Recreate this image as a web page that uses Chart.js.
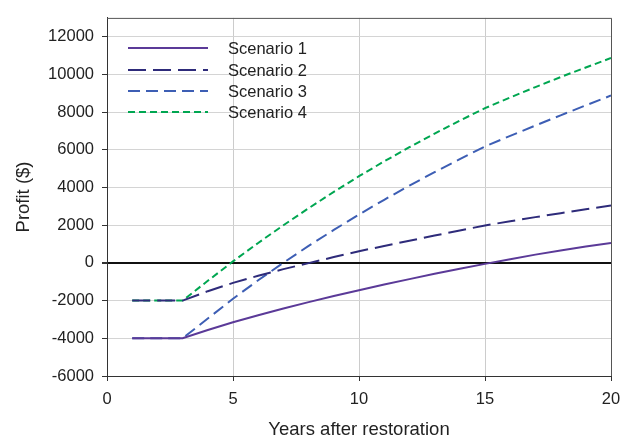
<!DOCTYPE html>
<html>
<head>
<meta charset="utf-8">
<script src="https://cdn.jsdelivr.net/npm/chart.js@4/dist/chart.umd.min.js"></script>
<style>
  body { margin: 0; background: #fff; }
  #wrap { width: 633px; height: 441px; position: relative; }
</style>
</head>
<body>
<div id="wrap"><canvas id="profitChart"></canvas></div>
<script>
// Années après restauration
const years = [1, 2, 3, 4, 5, 6, 7, 8, 9, 10, 11, 12, 13, 14, 15, 16, 17, 18, 19, 20];

// Profit ($) par scénario
const scenario1 = [-4000, -4000, -4000, -3560, -3150, -2780, -2420, -2080, -1760, -1450, -1150, -860, -580, -310, -50, 200, 440, 660, 870, 1060];
const scenario2 = [-2000, -2000, -2000, -1500, -1060, -680, -330, -10, 310, 620, 900, 1180, 1450, 1720, 1990, 2210, 2430, 2640, 2850, 3050];
const scenario3 = [-4000, -4000, -4000, -2950, -1900, -920, 10, 900, 1750, 2570, 3350, 4100, 4820, 5510, 6180, 6740, 7290, 7830, 8360, 8880];
const scenario4 = [-2000, -2000, -2000, -950, 80, 1060, 2000, 2900, 3770, 4600, 5390, 6140, 6860, 7550, 8210, 8780, 9330, 9860, 10370, 10870];

const seriesNames = ['Scenario 1', 'Scenario 2', 'Scenario 3', 'Scenario 4'];
const xTicks = [0, 5, 10, 15, 20];
const yTicks = [-6000, -4000, -2000, 0, 2000, 4000, 6000, 8000, 10000, 12000];

const toPoints = (values) => values.map((v, i) => ({ x: years[i], y: v }));

const fontFamily = '"Liberation Sans", Arial, sans-serif';
const tickFont = { family: fontFamily, size: 16.5 };
const titleFont = { family: fontFamily, size: 18.5 };

// Légende dessinée à l'intérieur du graphique
const legendInside = {
    id: 'legendInside',
    afterDatasetsDraw(chart) {
        const ctx = chart.ctx;
        const x0 = chart.chartArea.left + 21;
        const rows = [48, 70, 91, 112];
        ctx.save();
        chart.data.datasets.forEach((ds, i) => {
            const y = rows[i];
            ctx.strokeStyle = ds.borderColor;
            ctx.lineWidth = ds.borderWidth;
            ctx.setLineDash(ds.borderDash || []);
            ctx.beginPath();
            ctx.moveTo(x0, y);
            ctx.lineTo(x0 + 80, y);
            ctx.stroke();
            ctx.setLineDash([]);
            ctx.fillStyle = '#222';
            ctx.font = '16.5px ' + fontFamily;
            ctx.textBaseline = 'middle';
            ctx.textAlign = 'left';
            ctx.fillText(ds.label, x0 + 100, y + 1);
        });
        ctx.restore();
    }
};

// Cadre haut et droite
const frame = {
    id: 'frame',
    afterDraw(chart) {
        const { left, right, top, bottom } = chart.chartArea;
        const ctx = chart.ctx;
        ctx.save();
        ctx.strokeStyle = '#555';
        ctx.lineWidth = 1;
        ctx.beginPath();
        ctx.moveTo(left, top + 0.5);
        ctx.lineTo(right + 0.5, top + 0.5);
        ctx.lineTo(right + 0.5, bottom);
        ctx.stroke();
        ctx.restore();
    }
};

new Chart(document.getElementById('profitChart').getContext('2d'), {
    type: 'line',
    data: {
        datasets: [
            { label: seriesNames[0], data: toPoints(scenario1), borderColor: '#5b3a98', borderWidth: 2, borderDash: [] },
            { label: seriesNames[1], data: toPoints(scenario2), borderColor: '#2e2b7a', borderWidth: 2, borderDash: [18, 7] },
            { label: seriesNames[2], data: toPoints(scenario3), borderColor: '#3d5eb4', borderWidth: 2, borderDash: [12, 6] },
            { label: seriesNames[3], data: toPoints(scenario4), borderColor: '#00a651', borderWidth: 2, borderDash: [7, 4] }
        ]
    },
    options: {
        responsive: true,
        maintainAspectRatio: false,
        animation: false,
        layout: { padding: { top: 12, right: 22, left: 0, bottom: 0 } },
        elements: { point: { radius: 0 }, line: { tension: 0 } },
        plugins: {
            legend: { display: false },
            tooltip: { enabled: false }
        },
        scales: {
            x: {
                type: 'linear',
                min: 0,
                max: 20,
                afterBuildTicks: (scale) => { scale.ticks = xTicks.map(v => ({ value: v })); },
                afterFit: (scale) => { scale.height = 65; },
                ticks: { color: '#222', font: tickFont, padding: 9, maxRotation: 0, callback: (v) => String(v) },
                grid: { color: '#cccccc', lineWidth: 1, tickLength: 5, tickColor: '#333' },
                border: { color: '#333', width: 1 },
                title: { display: true, text: 'Years after restoration', color: '#222', font: titleFont, padding: { top: 0, bottom: 0 } }
            },
            y: {
                type: 'linear',
                min: -6000,
                max: 13000,
                afterBuildTicks: (scale) => { scale.ticks = yTicks.map(v => ({ value: v })); },
                afterFit: (scale) => { scale.width = 107; },
                ticks: { color: '#222', font: tickFont, padding: 8, callback: (v) => String(v) },
                grid: {
                    color: (c) => c.tick && c.tick.value === 0 ? '#111' : '#d4d4d4',
                    lineWidth: (c) => c.tick && c.tick.value === 0 ? 2 : 1,
                    tickLength: 5,
                    tickColor: '#333'
                },
                border: { color: '#333', width: 1 },
                title: { display: true, text: 'Profit ($)', color: '#222', font: titleFont, padding: { top: 13, bottom: 0 } }
            }
        }
    },
    plugins: [legendInside, frame]
});
</script>
</body>
</html>
